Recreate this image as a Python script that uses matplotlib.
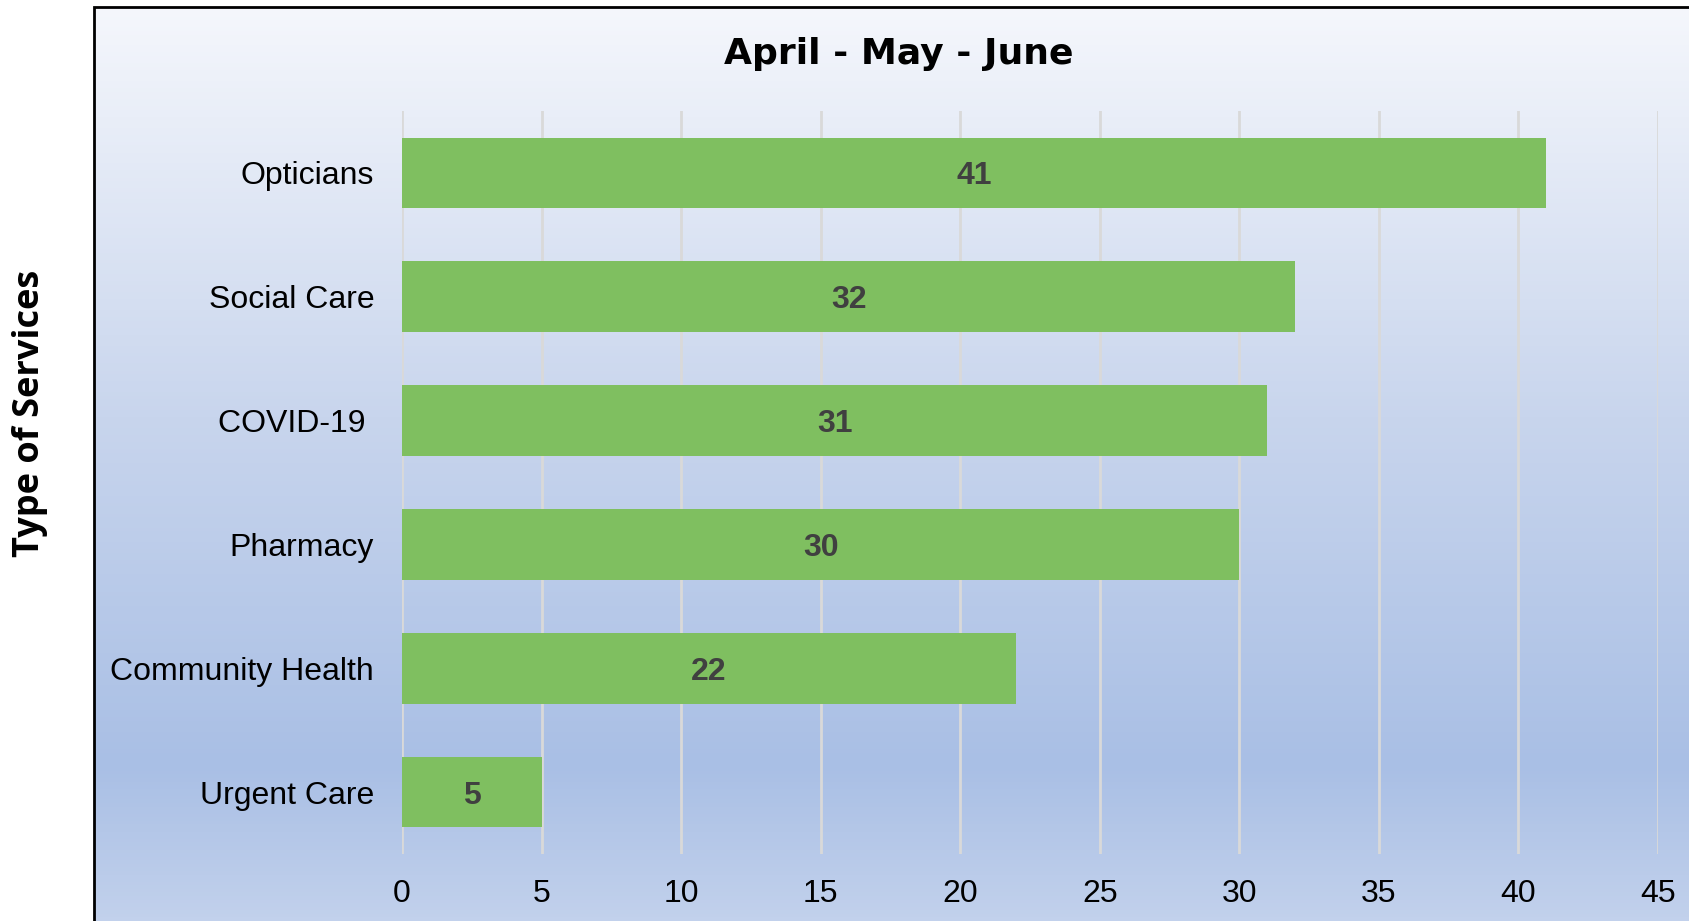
import numpy as np
import matplotlib
matplotlib.use('Agg')
import matplotlib.pyplot as plt
from matplotlib.colors import LinearSegmentedColormap
from matplotlib.patches import Rectangle

# data
services = ['Opticians', 'Social Care', 'COVID-19 ', 'Pharmacy', 'Community Health', 'Urgent Care']
counts = [41, 32, 31, 30, 22, 5]
xticks = [0, 5, 10, 15, 20, 25, 30, 35, 40, 45]

W, H = 1690, 921
fig = plt.figure(figsize=(W / 100, H / 100), dpi=100)
fig.patch.set_facecolor('white')

# gradient background inside the chart frame
fx, fy = 94 / W, 7 / H
bg = fig.add_axes([fx, 0, 1 - fx, 1 - fy], zorder=0)
cmap = LinearSegmentedColormap.from_list('bg', [(0.0, '#f5f7fc'), (0.45, '#c8d5ed'),
                                                (0.83, '#a9bfe5'), (1.0, '#c2d1ec')])
grad = np.linspace(0, 1, 256).reshape(-1, 1)
bg.imshow(grad, aspect='auto', cmap=cmap, extent=[0, 1, 1, 0])
bg.set_axis_off()

# frame line
fig.patches.append(Rectangle((fx, -0.2), 1.2, 1 - fy + 0.2, transform=fig.transFigure,
                             fill=False, edgecolor='black', linewidth=2, zorder=1))

ax = fig.add_axes([402 / W, 1 - 854 / H, (1658 - 402) / W, (854 - 111) / H], zorder=2)
ax.patch.set_alpha(0)

y = np.arange(len(services))
ax.barh(y, counts, height=0.57, color='#7fbf60', zorder=3)
for yi, v in zip(y, counts):
    ax.text(v / 2, yi, str(v), ha='center', va='center_baseline', fontsize=23, fontweight='bold',
            color='#404040', family='Liberation Sans', zorder=4)

ax.set_xlim(0, 45)
ax.set_ylim(len(services) - 0.5, -0.5)
ax.set_xticks(xticks)
ax.set_yticks(y)
ax.set_yticklabels(services)
ax.grid(axis='x', color='#d9d9d9', linewidth=2, zorder=1)
ax.set_axisbelow(True)
for s in ax.spines.values():
    s.set_visible(False)
ax.tick_params(axis='both', length=0, labelsize=23, labelcolor='black')
ax.tick_params(axis='x', pad=18)
ax.tick_params(axis='y', pad=20)
for lbl in ax.get_xticklabels() + ax.get_yticklabels():
    lbl.set_family('Liberation Sans')

fig.text(899 / W, 1 - 54 / H, 'April - May - June', ha='center', va='center',
         fontsize=26, fontweight='bold', family='DejaVu Sans', zorder=5)
fig.text(30 / W, 1 - 413 / H, 'Type of Services', ha='center', va='center', rotation=90,
         fontsize=26, fontweight='bold', family='Open Sans', zorder=5)

fig.savefig('out.png', dpi=100)
